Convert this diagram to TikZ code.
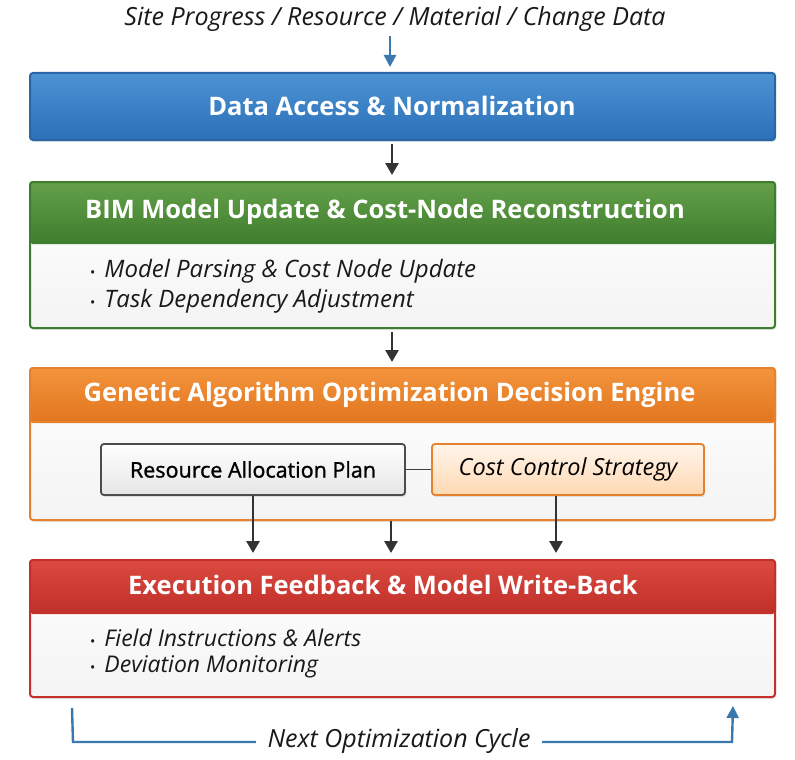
\documentclass[tikz,border=0pt]{standalone}
\usepackage{fontspec}
\setmainfont{Open Sans}
\newfontfamily\semib[FakeBold=1.2]{Open Sans}
\usetikzlibrary{arrows.meta,calc,shadows}
\definecolor{bluetop}{HTML}{4C93D4}
\definecolor{bluebot}{HTML}{2C70B8}
\definecolor{blueline}{HTML}{2A66A6}
\definecolor{greentop}{HTML}{64A04A}
\definecolor{greenbot}{HTML}{3F7E2E}
\definecolor{greenline}{HTML}{3F7D2E}
\definecolor{orangetop}{HTML}{F2943C}
\definecolor{orangebot}{HTML}{E2761F}
\definecolor{orangeline}{HTML}{E5822F}
\definecolor{redtop}{HTML}{DA4A40}
\definecolor{redbot}{HTML}{C0302A}
\definecolor{redline}{HTML}{C2322C}
\definecolor{arrowdark}{HTML}{333333}
\definecolor{loopblue}{HTML}{3B78AE}
\definecolor{bodytop}{HTML}{FFFFFF}
\definecolor{bodybot}{HTML}{F4F4F4}
\newcommand{\bul}{{\fontsize{14}{14}\selectfont\upshape •}\hspace{9pt}}
\begin{document}
\begin{tikzpicture}[x=1pt,y=-1pt,
  outerbox/.style={draw=#1, line width=2pt, rounded corners=3pt,
    minimum width=745pt, top color=bodytop, bottom color=bodybot,
    drop shadow={opacity=0.18, shadow xshift=1pt, shadow yshift=-2pt}},
  hdrbox/.style={draw=#1line, line width=2pt, rounded corners=3pt,
    minimum width=745pt, top color=#1top, bottom color=#1bot},
  titletext/.style={text=white, font=\bfseries\fontsize{25.5}{28}\selectfont},
  bullettext/.style={anchor=west, inner xsep=0pt, font=\itshape\fontsize{24}{28}\selectfont, text=black!90},
  darrow/.style={draw=arrowdark, line width=2.8pt, -{Triangle[length=12pt,width=13pt]}},
  innerbox/.style={line width=1.8pt, rounded corners=3pt, minimum height=51pt,
    drop shadow={opacity=0.2, shadow xshift=1pt, shadow yshift=-2pt}},
]
\useasboundingbox[fill=white] (0,0) rectangle (795,760);

% source text
\node[font=\itshape\fontsize{25}{28}\selectfont, text=black!90] (src) at (395,19) {Site Progress / Resource / Material / Change Data};

% blue box
\node[hdrbox=blue, minimum height=67pt,
  drop shadow={opacity=0.18, shadow xshift=1pt, shadow yshift=-2pt}] (data) at (402.5,106.5) {};
\node[titletext] (datat) at (392,106) {Data Access \& Normalization};

% green box
\node[outerbox=greenline, minimum height=146pt] (bim) at (402.5,255) {};
\node[hdrbox=green, minimum height=61pt] (bimhd) at (402.5,212.5) {};
\node[titletext] (bimt) at (385,212) {BIM Model Update \& Cost-Node Reconstruction};
\node[bullettext] (b1) at (90,271) {\bul Model Parsing \& Cost Node Update};
\node[bullettext] (b2) at (90,301) {\bul Task Dependency Adjustment};

% orange box
\node[outerbox=orangeline, minimum height=152pt] (ga) at (402.5,444) {};
\node[hdrbox=orange, minimum height=54pt] (gahd) at (402.5,395) {};
\node[titletext] (gat) at (389.5,395) {Genetic Algorithm Optimization Decision Engine};
\node[innerbox, draw=black!70, top color=white, bottom color=black!10,
  minimum width=304pt, font=\semib\fontsize{21.5}{24}\selectfont] (rap) at (253,469.5) {Resource Allocation Plan};
\node[innerbox, draw=orangeline, top color=orange!8, bottom color=orange!30,
  minimum width=272pt, font=\itshape\fontsize{23.5}{26}\selectfont] (ccs) at (568,469.5) {Cost Control Strategy};
\draw[draw=black!75, line width=1.8pt] (rap.east) -- (ccs.west);

% red box
\node[outerbox=redline, minimum height=137pt] (exe) at (402.5,628.5) {};
\node[hdrbox=red, minimum height=53pt] (exehd) at (402.5,586.5) {};
\node[titletext] (exet) at (383,585) {Execution Feedback \& Model Write-Back};
\node[bullettext, font=\itshape\fontsize{23}{26}\selectfont] (r1) at (90,638) {\bul Field Instructions \& Alerts};
\node[bullettext, font=\itshape\fontsize{23}{26}\selectfont] (r2) at (90,667) {\bul Deviation Monitoring};

% arrows
\draw[draw=loopblue, line width=2.4pt, -{Triangle[length=12pt,width=12pt]}, shorten <=2pt, shorten >=5pt] (data.north -| 390,0) ++(0,-38) -- (data.north -| 390,0);
\draw[darrow, shorten <=3pt, shorten >=6pt] (data.south -| 392,0) -- (bimhd.north -| 392,0);
\draw[darrow, shorten <=3pt, shorten >=5pt] (bim.south -| 392,0) -- (gahd.north -| 392,0);
\draw[darrow, shorten >=6pt] (rap.south) -- (rap.south |- exehd.north);
\draw[darrow, shorten >=6pt] (ga.south -| 391,0) -- (exehd.north -| 391,0);
\draw[darrow, shorten >=6pt] (ccs.south -| 556,0) -- (exehd.north -| 556,0);

% feedback loop
\coordinate (lt) at ($(exe.south west)+(43,10)$);
\coordinate (lb) at (73,742);
\coordinate (rb) at (732,742);
\coordinate (rt) at ($(exe.south east)+(-43,8)$);
\draw[draw=loopblue, line width=2.4pt, -{Triangle[length=12pt,width=12pt]}] (lt) -- (lb) -- (rb) -- (rt);
\node[fill=white, inner xsep=12pt, font=\itshape\fontsize{25}{28}\selectfont, text=black!90] (next) at (399,741) {Next Optimization Cycle};
\end{tikzpicture}
\end{document}
